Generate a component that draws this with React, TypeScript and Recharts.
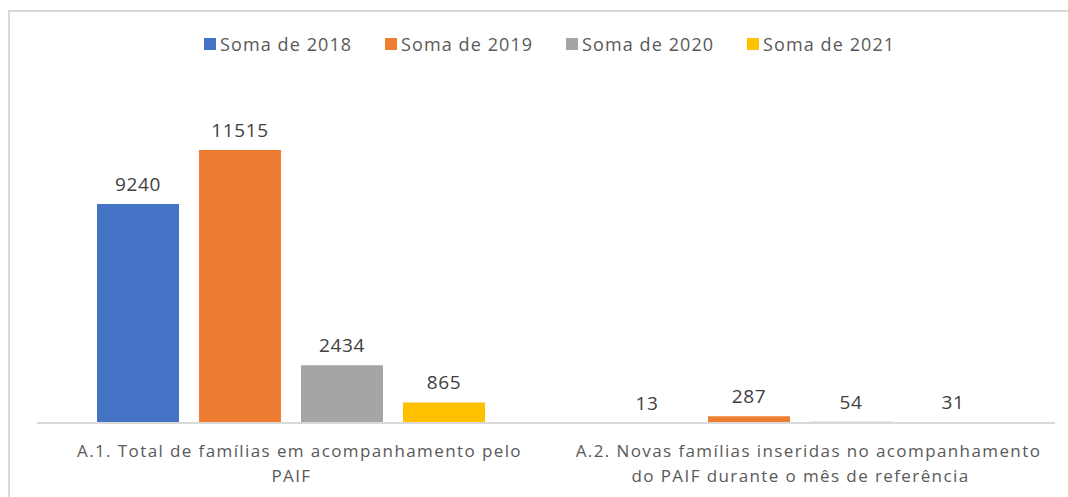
import { BarChart, Bar, XAxis, YAxis, Legend, LabelList } from 'recharts'

const categories = ['A.1', 'A.2']
const tickLines = [
  ['A.1. Total de famílias em acompanhamento pelo', 'PAIF'],
  ['A.2. Novas famílias inseridas no acompanhamento', 'do PAIF durante o mês de referência'],
]
const s2018 = [9240, 13]
const s2019 = [11515, 287]
const s2020 = [2434, 54]
const s2021 = [865, 31]

const seriesNames = ['Soma de 2018', 'Soma de 2019', 'Soma de 2020', 'Soma de 2021']
const colors = ['#4472C4', '#ED7D31', '#A5A5A5', '#FFC000']

const data = categories.map((c, i) => ({
  name: c,
  y2018: s2018[i],
  y2019: s2019[i],
  y2020: s2020[i],
  y2021: s2021[i],
}))
const keys = ['y2018', 'y2019', 'y2020', 'y2021']

const FONT = '"Open Sans", "Noto Sans", sans-serif'

// wrapped lines keep their trailing space, so the first line sits a bit right
function CategoryTick(props: any) {
  const { x, y, index } = props
  const lines = tickLines[index] || []
  return (
    <g>
      {lines.map((t, i) => (
        <text
          key={i}
          x={x + (i < lines.length - 1 ? 8 : 0)}
          y={y + 26 + i * 25}
          textAnchor="middle"
          fill="#595959"
          fontSize={17}
          letterSpacing={1.4}
          fontFamily={FONT}
        >
          {t}
        </text>
      ))}
    </g>
  )
}

function LegendContent() {
  return (
    <div style={{ display: 'flex', fontFamily: FONT, fontSize: 18, color: '#595959', letterSpacing: 1.1 }}>
      {seriesNames.map((n, i) => (
        <div key={n} style={{ width: 181, display: 'flex', alignItems: 'center' }}>
          <span style={{ width: 12, height: 12, background: colors[i], marginRight: 4, display: 'inline-block' }} />
          <span style={{ lineHeight: '20px' }}>{n}</span>
        </div>
      ))}
    </div>
  )
}

export default function App() {
  return (
    <div style={{ position: 'fixed', left: 0, top: 0, width: 1068, height: 497, overflow: 'hidden', background: '#fff' }}>
      <div
        style={{
          position: 'absolute',
          left: 8,
          top: 10,
          width: 1100,
          height: 520,
          border: '2px solid #d9d9d9',
          boxSizing: 'border-box',
        }}
      />
      <div style={{ position: 'absolute', left: 0, top: 0 }}>
        <BarChart
          width={1068}
          height={497}
          data={data}
          margin={{ top: 91, right: 13, left: 37, bottom: 0 }}
          barCategoryGap={60}
          barGap={20}
        >
          <XAxis
            dataKey="name"
            height={74}
            axisLine={{ stroke: '#d9d9d9', strokeWidth: 2 }}
            tickLine={false}
            tick={<CategoryTick />}
            interval={0}
          />
          <YAxis hide domain={[0, 14000]} />
          <Legend
            verticalAlign="middle"
            content={<LegendContent />}
            wrapperStyle={{ top: 34, left: 204, width: 740 }}
          />
          {keys.map((k, i) => (
            <Bar key={k} dataKey={k} name={seriesNames[i]} fill={colors[i]} isAnimationActive={false}>
              <LabelList
                dataKey={k}
                position="top"
                offset={13}
                fill="#404040"
                fontSize={19}
                letterSpacing={0.6}
                fontFamily={FONT}
              />
            </Bar>
          ))}
        </BarChart>
      </div>
    </div>
  )
}
